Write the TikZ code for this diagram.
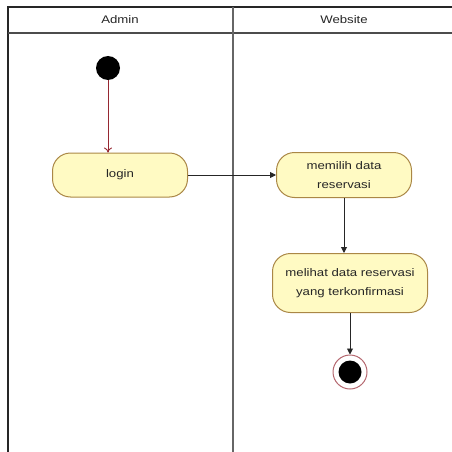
\documentclass[tikz,border=0pt]{standalone}
\usepackage{fontspec}
\setmainfont[FakeStretch=1.2]{Liberation Sans}
\usetikzlibrary{arrows.meta}
\definecolor{actfill}{RGB}{255,250,195}
\definecolor{actdraw}{RGB}{170,135,70}
\definecolor{flowred}{RGB}{150,40,50}
\tikzset{every node/.style={font=\fontsize{11}{19}\selectfont,text=black!85}}
\tikzset{act/.style={rectangle,rounded corners=18pt,draw=actdraw,fill=actfill,line width=1pt,align=center}}
\tikzset{initstate/.style={circle,fill=black,minimum size=24pt,inner sep=0pt}}
\tikzset{finalstate/.style={circle,draw=flowred!70,fill=white,line width=1pt,minimum size=34pt,inner sep=0pt,
  path picture={\fill[black] (path picture bounding box.center) circle (11.5pt);}}}
\tikzset{flow/.style={-{Triangle[length=6pt,width=6pt]},black!85,line width=0.9pt}}

\begin{document}
\begin{tikzpicture}[x=1pt,y=-1pt]
      \useasboundingbox (0,0) rectangle (452,452);
      \clip (0,0) rectangle (452,452);
      % swimlanes
      \draw[black!85,line width=1.6pt] (8,460) -- (8,7) -- (460,7);
      \draw[black!70,line width=1.2pt] (8,33) -- (460,33);
      \draw[black!60,line width=1.2pt] (233,7) -- (233,460);
      \node (L1) at (120,20) {Admin};
      \node (L2) at (344,20) {Website};
      % states
      \node[initstate] (S) at (108,68) {};
      \node[act,minimum width=135pt,minimum height=44pt] (A) at (120,175) {login};
      \node[act,minimum width=135pt,minimum height=45pt] (B) at (344,175) {memilih data\\reservasi};
      \node[act,minimum width=155pt,minimum height=59pt] (C) at (350,283) {melihat data reservasi\\yang terkonfirmasi};
      \node[finalstate] (E) at (350,372) {};
      % flows
      \draw[flowred,line width=0.9pt,-{To[length=5pt,width=8pt]}] (S) -- (S |- A.north);
      \draw[flow] (A) -- (B);
      \draw[flow] (B.south) -- (B.south |- C.north);
      \draw[flow] (C.south) -- (E);
\end{tikzpicture}
\end{document}
